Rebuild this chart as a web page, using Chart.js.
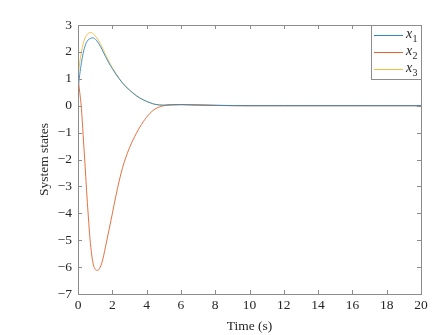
<!DOCTYPE html>
<html>
<head>
<meta charset="utf-8">
<script src="https://cdn.jsdelivr.net/npm/chart.js@4/dist/chart.umd.min.js"></script>
<style>
  html, body { margin: 0; padding: 0; background: #fff; }
</style>
</head>
<body>
<canvas id="states" width="439" height="335"></canvas>
<script>
// time samples (s) and the three state trajectories
const timePoints = [0, 0.05, 0.1, 0.15, 0.2, 0.3, 0.4, 0.5, 0.6, 0.7, 0.8, 0.9, 1.0, 1.1, 1.2, 1.3, 1.4, 1.5, 1.6, 1.7, 1.8, 2.0, 2.2, 2.4, 2.6, 2.8, 3.0, 3.2, 3.4, 3.6, 3.8, 4.0, 4.2, 4.5, 5, 5.5, 6, 7, 8, 9, 10, 12, 14, 16, 18, 20];
const x1Values = [0.58, 0.88, 1.15, 1.38, 1.6, 1.95, 2.2, 2.36, 2.45, 2.49, 2.52, 2.52, 2.48, 2.41, 2.32, 2.21, 2.09, 1.96, 1.83, 1.71, 1.59, 1.38, 1.18, 1.0, 0.84, 0.7, 0.58, 0.47, 0.37, 0.29, 0.22, 0.16, 0.11, 0.05, 0.02, 0.03, 0.04, 0.03, 0.015, 0.005, 0, 0, 0, 0, 0, 0];
const x2Values = [1.05, 0.78, 0.5, 0.22, -0.1, -1.1, -2.1, -3.15, -4.1, -4.95, -5.55, -5.92, -6.08, -6.12, -6.1, -6.0, -5.82, -5.56, -5.26, -4.95, -4.64, -4.02, -3.38, -2.8, -2.3, -1.9, -1.57, -1.28, -1.03, -0.8, -0.6, -0.43, -0.28, -0.12, 0.0, 0.04, 0.04, 0.02, 0.01, 0, 0, 0, 0, 0, 0, 0];
const x3Values = [1.05, 1.33, 1.6, 1.82, 2.0, 2.3, 2.5, 2.62, 2.69, 2.72, 2.71, 2.67, 2.6, 2.52, 2.42, 2.31, 2.18, 2.05, 1.91, 1.78, 1.65, 1.42, 1.21, 1.02, 0.85, 0.71, 0.59, 0.48, 0.38, 0.29, 0.22, 0.16, 0.11, 0.05, 0.02, 0.03, 0.04, 0.03, 0.015, 0.005, 0, 0, 0, 0, 0, 0];

const seriesNames = ["x", "x", "x"];
const seriesSubs = ["1", "2", "3"];
const seriesColors = ["#2f86c8", "#e0622c", "#f0bd3e"];

const xTicks = [0, 2, 4, 6, 8, 10, 12, 14, 16, 18, 20];
const yTicks = [-7, -6, -5, -4, -3, -2, -1, 0, 1, 2, 3];

const axisGray = "#8c8c8c";
const textColor = "#262626";
const serif = "'Liberation Serif', 'Times New Roman', serif";

const toPoints = (vals) => vals.map((v, i) => ({ x: timePoints[i], y: v }));

// inward ticks + full box, like matlab
const boxTicks = {
  id: "boxTicks",
  afterDatasetsDraw(chart) {
    const { ctx, chartArea: a, scales } = chart;
    const len = 4;
    ctx.save();
    ctx.strokeStyle = axisGray;
    ctx.lineWidth = 1;
    ctx.beginPath();
    xTicks.forEach((t) => {
      const px = Math.round(scales.x.getPixelForValue(t)) + 0.5;
      ctx.moveTo(px, a.bottom); ctx.lineTo(px, a.bottom - len);
      ctx.moveTo(px, a.top); ctx.lineTo(px, a.top + len);
    });
    yTicks.forEach((t) => {
      const py = Math.round(scales.y.getPixelForValue(t)) + 0.5;
      ctx.moveTo(a.left, py); ctx.lineTo(a.left + len, py);
      ctx.moveTo(a.right, py); ctx.lineTo(a.right - len, py);
    });
    ctx.stroke();
    ctx.strokeRect(Math.round(a.left) + 0.5, Math.round(a.top) + 0.5, Math.round(a.right - a.left), Math.round(a.bottom - a.top));
    ctx.restore();
  },
};

// legend box in the top right corner, italic x with subscript
const stateLegend = {
  id: "stateLegend",
  afterDraw(chart) {
    const { ctx, chartArea: a } = chart;
    const w = 50, h = 54;
    const left = Math.round(a.right) - w, top = Math.round(a.top);
    ctx.save();
    ctx.fillStyle = "#fff";
    ctx.fillRect(left, top, w, h);
    ctx.strokeStyle = axisGray;
    ctx.lineWidth = 1;
    ctx.strokeRect(left + 0.5, top + 0.5, w, h);
    seriesNames.forEach((name, i) => {
      const y = top + 10 + i * 17;
      ctx.strokeStyle = seriesColors[i];
      ctx.beginPath();
      ctx.moveTo(left + 3, y + 0.5);
      ctx.lineTo(left + 32, y + 0.5);
      ctx.stroke();
      ctx.fillStyle = textColor;
      ctx.textBaseline = "alphabetic";
      ctx.font = "italic 14px " + serif;
      ctx.fillText(name, left + 35, y + 3);
      ctx.font = "10px " + serif;
      ctx.fillText(seriesSubs[i], left + 41.5, y + 7);
    });
    ctx.restore();
  },
};

new Chart(document.getElementById("states"), {
  type: "line",
  data: {
    datasets: [0, 1, 2].map((i) => ({
      label: seriesNames[i] + seriesSubs[i],
      data: toPoints([x1Values, x2Values, x3Values][i]),
      borderColor: seriesColors[i],
      borderWidth: 0.9,
      pointRadius: 0,
      fill: false,
      cubicInterpolationMode: "monotone",
    })),
  },
  options: {
    responsive: false,
    animation: false,
    layout: { padding: { top: 25, right: 18, left: 0, bottom: 0 } },
    plugins: { legend: { display: false }, tooltip: { enabled: false } },
    scales: {
      x: {
        type: "linear",
        min: 0,
        max: 20,
        afterFit: (s) => { s.height = 41; },
        afterBuildTicks: (s) => { s.ticks = xTicks.map((v) => ({ value: v })); },
        grid: { display: false, drawTicks: false },
        border: { display: false },
        ticks: { color: textColor, padding: 3, maxRotation: 0, font: { family: serif, size: 13.5 } },
        title: { display: true, text: "Time (s)", color: textColor, padding: { top: 2, bottom: 0 }, font: { family: serif, size: 13.5 } },
      },
      y: {
        min: -7,
        max: 3,
        afterFit: (s) => { s.width = 78; },
        afterBuildTicks: (s) => { s.ticks = yTicks.map((v) => ({ value: v })); },
        grid: { display: false, drawTicks: false },
        border: { display: false },
        ticks: {
          color: textColor,
          padding: 6,
          font: { family: serif, size: 13.5 },
          callback: (v) => String(v).replace("-", "\u2212"),
        },
        title: { display: true, text: "System states", color: textColor, padding: { top: 36, bottom: 0 }, font: { family: serif, size: 13.5 } },
      },
    },
  },
  plugins: [boxTicks, stateLegend],
});
</script>
</body>
</html>
